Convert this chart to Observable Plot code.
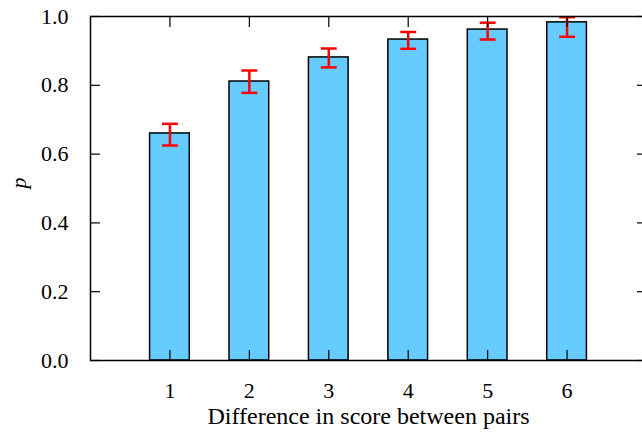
<!DOCTYPE html>
<html>
<head>
<meta charset="utf-8">
<script src="https://cdn.jsdelivr.net/npm/d3@7"></script>
<script src="https://cdn.jsdelivr.net/npm/@observablehq/plot@0.6"></script>
<style>
  html, body { margin: 0; padding: 0; background: #fff; overflow: hidden; }
  #chart svg, #chart svg text { font-family: "Liberation Serif", serif !important; }
</style>
</head>
<body>
<div id="chart"></div>
<script>
const diffs = [1, 2, 3, 4, 5, 6];
const pValues = [0.660, 0.811, 0.881, 0.933, 0.962, 0.983];
const errLow = [0.625, 0.778, 0.852, 0.906, 0.933, 0.941];
const errHigh = [0.688, 0.843, 0.907, 0.955, 0.982, 0.998];
const yTicks = [0, 0.2, 0.4, 0.6, 0.8, 1.0];
const xLabel = "Difference in score between pairs";
const yLabel = "p";

const data = diffs.map((d, i) => ({d, p: pValues[i], lo: errLow[i], hi: errHigh[i]}));
const barHalf = 0.25, capHalf = 0.1;
const FF = "Liberation Serif";

const chart = Plot.plot({
  width: 642,
  height: 435,
  marginLeft: 90,
  marginRight: -4,
  marginTop: 16,
  marginBottom: 75,
  style: {fontFamily: FF, fontSize: "22px", background: "#fff", color: "#000"},
  x: {domain: [0, 7], axis: null},
  y: {domain: [0, 1], axis: null},
  marks: [
    Plot.rectY(data, {x1: d => d.d - barHalf, x2: d => d.d + barHalf, y1: 0, y2: "p", fill: "#66ccff", stroke: "#000", strokeWidth: 1.5}),
    Plot.ruleX(data, {x: "d", y1: "lo", y2: "hi", stroke: "#ff0000", strokeWidth: 2.5}),
    Plot.link(data, {x1: d => d.d - capHalf, x2: d => d.d + capHalf, y1: "hi", y2: "hi", stroke: "#ff0000", strokeWidth: 2.5}),
    Plot.link(data, {x1: d => d.d - capHalf, x2: d => d.d + capHalf, y1: "lo", y2: "lo", stroke: "#ff0000", strokeWidth: 2.5}),
    Plot.axisY(yTicks, {anchor: "left", tickSize: -10, tickPadding: 32, tickFormat: d3.format(".1f"), label: null, fontFamily: FF, fontSize: 22, stroke: "#000", strokeWidth: 1.2, strokeOpacity: 1, fill: "#000"}),
    Plot.axisY(yTicks, {anchor: "right", tickSize: -10, text: null, label: null, stroke: "#000", strokeWidth: 1.2, strokeOpacity: 1}),
    Plot.axisX(diffs, {anchor: "bottom", tickSize: -10, tickPadding: 32, tickFormat: d3.format("d"), label: null, fontFamily: FF, fontSize: 22, stroke: "#000", strokeWidth: 1.2, strokeOpacity: 1, fill: "#000"}),
    Plot.axisX(diffs, {anchor: "top", tickSize: -10, text: null, label: null, stroke: "#000", strokeWidth: 1.2, strokeOpacity: 1}),
    Plot.frame({stroke: "#000", strokeWidth: 1.5}),
    Plot.text([xLabel], {frameAnchor: "bottom", dy: 63, fontFamily: FF, fontSize: 24, fill: "#000"}),
    Plot.text([yLabel], {frameAnchor: "left", dx: -72, rotate: -90, fontFamily: FF, fontSize: 22, fontStyle: "italic", fill: "#000"})
  ]
});
document.getElementById("chart").appendChild(chart);
</script>
</body>
</html>
